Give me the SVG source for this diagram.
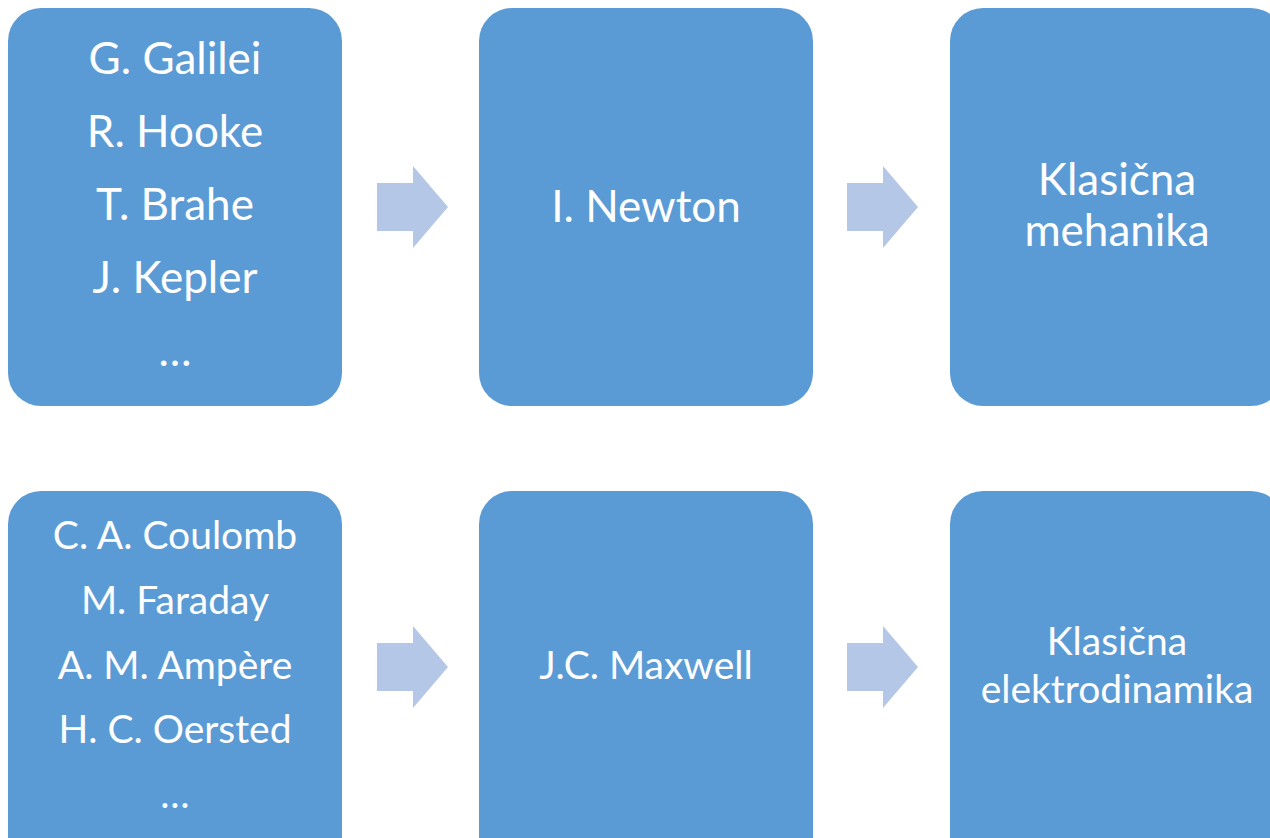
<svg xmlns="http://www.w3.org/2000/svg" width="1270" height="838" viewBox="0 0 1270 838">
<defs>
<style>
.box{fill:#5B9BD5}
.arr{fill:#B4C7E7}
text{font-family:Lato,"Open Sans","Liberation Sans",sans-serif;fill:#FFFFFF;text-anchor:middle}
.t1{font-size:44px}
.t2{font-size:39px}
</style>
<path id="arrow" d="M0,17 H36 V0 L71,41 L36,82 V65 H0 Z"/>
</defs>
<rect width="1270" height="838" fill="#FFFFFF"/>
<g id="connectors" class="arr">
<use href="#arrow" x="377" y="166"/>
<use href="#arrow" x="847" y="166"/>
<use href="#arrow" x="377" y="626"/>
<use href="#arrow" x="847" y="626"/>
</g>
<g id="n-galilei">
<rect class="box" x="8" y="8" width="334" height="398" rx="33"/>
<text class="t1" x="175" y="74">G. Galilei</text>
<text class="t1" x="175" y="147">R. Hooke</text>
<text class="t1" x="175" y="220">T. Brahe</text>
<text class="t1" x="175" y="293">J. Kepler</text>
<text class="t1" x="175" y="366">…</text>
</g>
<g id="n-newton">
<rect class="box" x="479" y="8" width="334" height="398" rx="33"/>
<text class="t1" x="646" y="222">I. Newton</text>
</g>
<g id="n-mehanika">
<rect class="box" x="950" y="8" width="334" height="398" rx="33"/>
<text class="t1" x="1117" y="195">Klasična</text>
<text class="t1" x="1117" y="246">mehanika</text>
</g>
<g id="n-coulomb">
<rect class="box" x="8" y="491" width="334" height="398" rx="33"/>
<text class="t2" x="175" y="549">C. A. Coulomb</text>
<text class="t2" x="175" y="614">M. Faraday</text>
<text class="t2" x="175" y="679">A. M. Ampère</text>
<text class="t2" x="175" y="743">H. C. Oersted</text>
<text class="t2" x="175" y="808">…</text>
</g>
<g id="n-maxwell">
<rect class="box" x="479" y="491" width="334" height="398" rx="33"/>
<text class="t2" x="646" y="679">J.C. Maxwell</text>
</g>
<g id="n-elektrodinamika">
<rect class="box" x="950" y="491" width="334" height="398" rx="33"/>
<text class="t2" x="1117" y="655">Klasična</text>
<text class="t2" x="1117" y="703">elektrodinamika</text>
</g>
</svg>
